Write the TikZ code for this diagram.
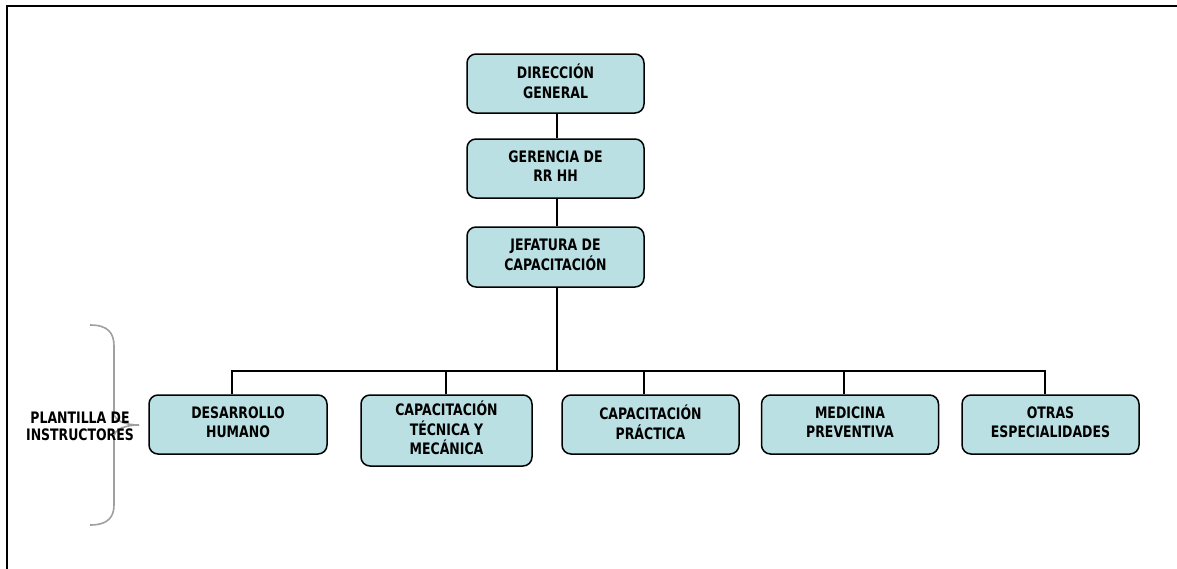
\documentclass[tikz,border=0pt]{standalone}
\usepackage{fontspec}
\setmainfont{DejaVu Sans}[FakeStretch=0.79]
\definecolor{boxfill}{HTML}{BAE0E3}
\definecolor{bracegray}{HTML}{A0A0A0}
\tikzset{
  unit/.style={draw=black, line width=1.5pt, rounded corners=9pt, fill=boxfill,
    minimum width=177pt, minimum height=59pt, inner sep=0pt, align=center,
    font=\bfseries\fontsize{15.8}{19.5}\selectfont,
    execute at end node={\rule[-5pt]{0pt}{5pt}}},
  link/.style={draw=black, line width=1.4pt},
  label/.style={align=center, inner sep=0pt, font=\bfseries\fontsize{15.8}{17.5}\selectfont}
}
\begin{document}
\begin{tikzpicture}[x=1pt, y=-1pt]
  \useasboundingbox (0,0) rectangle (1177,568);
  % page frame
  \draw[line width=2.2pt] (7,590) -- (7,6) -- (1200,6);

  % upper chain
  \node[unit] (dir) at (555.5,83.5) {DIRECCIÓN\\GENERAL};
  \node[unit] (ger) at (555.5,168.5) {GERENCIA DE\\RR HH};
  \node[unit, minimum height=60pt] (jef) at (555.5,257) {JEFATURA DE\\CAPACITACIÓN};

  % units
  \node[unit, minimum width=178pt] (des) at (238,424.5) {DESARROLLO\\HUMANO};
  \node[unit, minimum width=171pt, minimum height=71pt] (tec) at (446.5,430.5) {CAPACITACIÓN\\TÉCNICA Y\\MECÁNICA};
  \node[unit] (pra) at (650.5,424.5) {CAPACITACIÓN\\PRÁCTICA};
  \node[unit] (med) at (850,424.5) {MEDICINA\\PREVENTIVA};
  \node[unit] (otr) at (1050.5,424.5) {OTRAS\\ESPECIALIDADES};

  % connectors
  \coordinate (bus) at (557,371);
  \draw[link] ([xshift=1.5pt]dir.south) -- ([xshift=1.5pt]ger.north);
  \draw[link] ([xshift=1.5pt]ger.south) -- ([xshift=1.5pt]jef.north);
  \draw[link] ([xshift=1.5pt]jef.south) -- (bus);
  \draw[link] (bus) -| ([xshift=-6pt]des.north);
  \draw[link] (bus) -| ([xshift=-0.5pt]tec.north);
  \draw[link] (bus) -| ([xshift=-6.5pt]pra.north);
  \draw[link] (bus) -| ([xshift=-6pt]med.north);
  \draw[link] (bus) -| ([xshift=-5.5pt]otr.north);

  % brace and its label
  \draw[bracegray, line width=1.6pt]
    (90,325) .. controls (108,325) and (114,333) .. (114,346)
    -- (114,413) .. controls (114,421) and (126,425) .. (139,425)
    .. controls (126,425) and (114,429) .. (114,437)
    -- (114,505) .. controls (114,517) and (108,525) .. (90,525);
  \node[label] (staff) at (80,426.5) {PLANTILLA DE\\INSTRUCTORES};
\end{tikzpicture}
\end{document}
